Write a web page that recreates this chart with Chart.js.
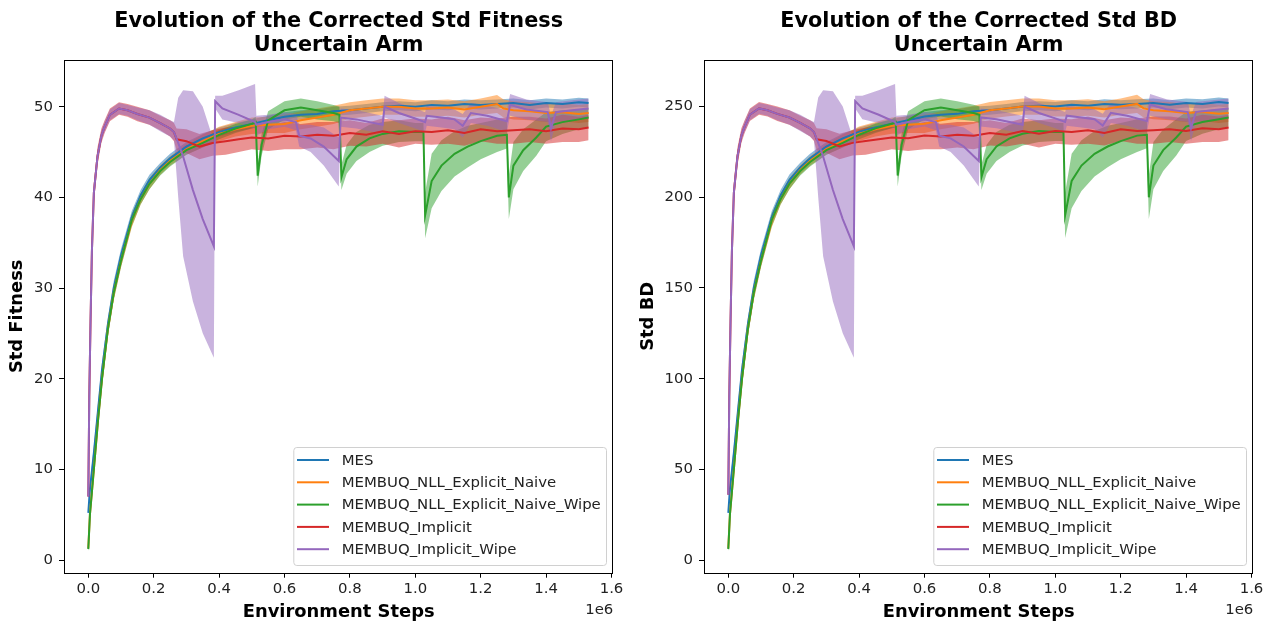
<!DOCTYPE html>
<html>
<head>
<meta charset="utf-8">
<script src="https://cdn.jsdelivr.net/npm/chart.js@4.4.0/dist/chart.umd.min.js"></script>
<style>
body { margin: 0; background: #fff; }
#wrap { position: relative; width: 1269px; height: 626px; }
canvas { position: absolute; top: 0; }
</style>
</head>
<body>
<div id="wrap">
  <canvas id="fitChart" width="634" height="626" style="left:0"></canvas>
  <canvas id="bdChart" width="635" height="626" style="left:634px"></canvas>
</div>
<script>
const seriesNames = ["MES", "MEMBUQ_NLL_Explicit_Naive", "MEMBUQ_NLL_Explicit_Naive_Wipe", "MEMBUQ_Implicit", "MEMBUQ_Implicit_Wipe"];
const lineColors = ["#1f77b4", "#ff7f0e", "#2ca02c", "#d62728", "#9467bd"];
const bandColors = ["rgba(31,119,180,0.5)", "rgba(255,127,14,0.5)", "rgba(44,160,44,0.5)", "rgba(214,39,40,0.5)", "rgba(148,103,189,0.5)"];

// environment steps, in millions
const xTicks = [0, 0.2, 0.4, 0.6, 0.8, 1.0, 1.2, 1.4, 1.6];
const fitTicks = [0, 10, 20, 30, 40, 50];
const bdTicks = [0, 50, 100, 150, 200, 250];

const mesSteps = [0,0.005,0.017,0.03,0.042,0.06,0.078,0.1,0.133,0.16,0.187,0.22,0.25,0.3,0.35,0.4,0.45,0.5,0.55,0.6,0.65,0.7,0.75,0.8,0.85,0.9,0.95,1.0,1.05,1.1,1.15,1.2,1.25,1.3,1.35,1.4,1.45,1.5,1.53];
const naiveSteps = [0,0.005,0.017,0.03,0.042,0.06,0.078,0.1,0.133,0.16,0.187,0.22,0.25,0.3,0.35,0.4,0.45,0.5,0.55,0.6,0.65,0.7,0.75,0.8,0.85,0.9,0.95,1.0,1.05,1.1,1.15,1.2,1.25,1.27,1.3,1.35,1.4,1.45,1.5,1.53];
const naiveWipeSteps = [0,0.005,0.017,0.03,0.042,0.06,0.078,0.1,0.133,0.16,0.187,0.22,0.25,0.3,0.35,0.4,0.45,0.5,0.512,0.518,0.53,0.55,0.6,0.65,0.7,0.75,0.768,0.774,0.79,0.82,0.86,0.9,0.95,1.0,1.025,1.03,1.05,1.08,1.12,1.16,1.2,1.25,1.28,1.286,1.3,1.33,1.37,1.4,1.45,1.5,1.53];
const implicitSteps = [0,0.003,0.0067,0.011,0.017,0.028,0.04,0.05,0.066,0.094,0.12,0.15,0.187,0.22,0.25,0.262,0.27,0.3,0.34,0.38,0.42,0.46,0.5,0.55,0.6,0.65,0.7,0.75,0.8,0.85,0.9,0.95,1.0,1.05,1.1,1.15,1.2,1.25,1.3,1.35,1.4,1.45,1.5,1.53];
const implicitWipeSteps = [0,0.003,0.0067,0.011,0.017,0.028,0.04,0.05,0.066,0.094,0.12,0.15,0.187,0.22,0.25,0.262,0.275,0.29,0.32,0.35,0.384,0.388,0.41,0.46,0.51,0.514,0.55,0.6,0.635,0.645,0.68,0.72,0.766,0.772,0.82,0.86,0.9,0.906,0.95,1.0,1.03,1.035,1.08,1.12,1.145,1.17,1.22,1.28,1.29,1.34,1.405,1.415,1.43,1.48,1.53];

// Std Fitness
const mesFit = [5.2,7.8,11.8,16.6,21.0,26.0,30.0,33.6,37.8,40.2,41.9,43.3,44.3,45.6,46.5,47.2,47.7,48.1,48.5,48.9,49.1,49.2,49.5,49.6,49.8,50.0,50.1,50.0,50.2,50.1,50.3,50.2,50.3,50.4,50.2,50.4,50.3,50.5,50.4];
const mesFitSd = [0.3,0.6,0.8,0.8,0.8,0.8,0.8,0.7,0.7,0.6,0.6,0.5,0.5,0.5,0.5,0.5,0.5,0.5,0.5,0.5,0.5,0.5,0.5,0.5,0.5,0.5,0.5,0.5,0.5,0.5,0.5,0.5,0.5,0.5,0.5,0.5,0.5,0.5,0.5];
const naiveFit = [1.3,5.0,10.0,15.5,20.0,25.5,29.5,33.0,37.4,39.8,41.5,43.0,44.0,45.3,46.2,47.0,47.5,47.9,48.0,48.1,48.5,48.8,49.1,49.6,49.8,50.0,50.0,49.8,49.8,49.9,49.7,50.0,50.3,49.8,49.6,49.5,49.3,49.4,49.2,49.3];
const naiveFitSd = [0.3,0.6,0.8,0.8,0.8,0.8,0.8,0.7,0.7,0.6,0.6,0.5,0.5,0.6,0.7,0.8,0.8,0.9,0.9,1.0,1.0,1.0,1.0,0.9,0.9,0.9,0.9,0.9,0.9,0.9,0.9,0.9,1.0,1.0,1.0,1.0,1.0,1.0,1.0,1.0];
const naiveWipeFit = [1.2,5.0,10.0,15.5,20.0,25.5,29.5,33.0,37.5,39.8,41.5,42.9,43.9,45.2,46.0,46.9,47.6,48.1,48.3,42.4,45.8,48.5,49.6,49.9,49.6,49.3,49.1,42.2,44.2,45.6,46.5,47.0,47.3,47.2,47.2,38.0,41.8,43.5,44.8,45.6,46.2,46.8,46.9,40.0,43.5,45.2,46.6,47.8,48.3,48.6,48.8];
const naiveWipeFitSd = [0.3,0.6,0.8,0.8,0.8,0.8,0.8,0.7,0.7,0.6,0.6,0.5,0.5,0.5,0.5,0.5,0.5,0.5,0.6,1.2,1.2,1.0,1.0,1.0,1.0,0.9,0.9,1.4,1.6,1.6,1.5,1.3,1.2,1.0,1.0,2.5,3.0,2.8,2.5,2.3,2.0,1.8,1.5,2.4,2.6,2.3,2.0,1.6,1.3,1.1,1.0];
const implicitFit = [7.0,18.0,26.0,34.0,40.5,44.5,46.8,47.8,49.1,49.8,49.6,49.2,48.8,48.2,47.6,47.2,46.4,46.2,45.6,46.0,46.2,46.4,46.6,46.5,46.8,46.7,46.9,46.8,47.1,46.9,47.3,47.0,47.3,47.2,47.4,47.1,47.5,47.3,47.4,47.5,47.3,47.6,47.5,47.7];
const implicitFitSd = [1.0,2.0,2.0,1.5,1.2,1.0,0.8,0.7,0.7,0.7,0.7,0.8,0.8,0.8,0.9,1.0,1.2,1.3,1.4,1.4,1.5,1.4,1.3,1.4,1.5,1.4,1.4,1.5,1.4,1.3,1.4,1.5,1.4,1.4,1.5,1.4,1.3,1.4,1.5,1.4,1.4,1.5,1.4,1.4];
const implicitWipeFit = [7.0,18.0,26.0,34.0,40.5,44.5,46.8,47.8,49.1,49.8,49.6,49.2,48.8,48.2,47.6,47.2,46.0,44.5,40.8,37.6,34.6,50.6,49.8,49.1,48.3,48.0,48.3,48.6,48.3,46.8,46.5,45.6,44.0,48.8,48.6,48.3,48.0,50.0,49.3,48.7,48.3,49.0,48.8,48.6,47.9,49.3,49.0,48.4,50.2,49.7,49.4,47.6,49.4,49.6,49.8];
const implicitWipeFitLo = [6.0,16.0,24.0,32.5,39.5,43.8,46.2,47.2,48.5,49.2,49.0,48.5,48.0,47.3,46.7,46.3,40.0,33.5,28.5,25.0,22.3,49.8,48.6,48.2,47.6,46.8,47.5,47.8,47.4,45.6,45.0,43.5,41.2,47.8,47.6,47.3,47.0,48.8,48.2,47.6,47.2,47.9,47.7,47.5,46.6,48.2,47.9,47.2,49.0,48.6,48.3,46.2,48.3,48.5,48.7];
const implicitWipeFitHi = [8.0,20.0,28.0,35.5,41.5,45.2,47.4,48.4,49.7,50.4,50.2,49.9,49.6,49.1,48.5,48.3,51.0,51.8,51.7,50.0,46.2,51.2,51.2,51.8,52.5,49.0,49.1,49.4,49.2,48.0,48.0,47.7,46.6,49.8,49.6,49.3,49.0,51.2,50.4,49.8,49.4,50.1,49.9,49.7,49.2,50.4,50.1,49.6,51.4,50.8,50.5,49.0,50.5,50.7,50.9];

// Std BD
const mesBD = [26,39,59,83,105,130,150,168,189,201,209.5,216.5,221.5,228,232.5,236,238.5,240.5,242.5,244.5,245.5,246,247.5,248,249,250,250.5,250,251,250.5,251.5,251,251.5,252,251,252,251.5,252.5,252];
const mesBDSd = [1.5,3,4,4,4,4,4,3.5,3.5,3,3,2.5,2.5,2.5,2.5,2.5,2.5,2.5,2.5,2.5,2.5,2.5,2.5,2.5,2.5,2.5,2.5,2.5,2.5,2.5,2.5,2.5,2.5,2.5,2.5,2.5,2.5,2.5,2.5];
const naiveBD = [6.5,25,50,77.5,100,127.5,147.5,165,187,199,207.5,215,220,226.5,231,235,237.5,239.5,240,240.5,242.5,244,245.5,248,249,250,250,249,249,249.5,248.5,250,251.5,249,248,247.5,246.5,247,246,246.5];
const naiveBDSd = [1.5,3,4,4,4,4,4,3.5,3.5,3,3,2.5,2.5,3,3.5,4,4,4.5,4.5,5,5,5,5,4.5,4.5,4.5,4.5,4.5,4.5,4.5,4.5,4.5,5,5,5,5,5,5,5,5];
const naiveWipeBD = [6,25,50,77.5,100,127.5,147.5,165,187.5,199,207.5,214.5,219.5,226,230,234.5,238,240.5,241.5,212,229,242.5,248,249.5,248,246.5,245.5,211,221,228,232.5,235,236.5,236,236,190,209,217.5,224,228,231,234,234.5,200,217.5,226,233,239,241.5,243,244];
const naiveWipeBDSd = [1.5,3,4,4,4,4,4,3.5,3.5,3,3,2.5,2.5,2.5,2.5,2.5,2.5,2.5,3,6,6,5,5,5,5,4.5,4.5,7,8,8,7.5,6.5,6,5,5,12.5,15,14,12.5,11.5,10,9,7.5,12,13,11.5,10,8,6.5,5.5,5];
const implicitBD = [36,90,130,170,202.5,222.5,234,239,245.5,249,248,246,244,241,238,236,232,231,228,230,231,232,233,232.5,234,233.5,234.5,234,235.5,234.5,236.5,235,236.5,236,237,235.5,237.5,236.5,237,237.5,236.5,238,237.5,238.5];
const implicitBDSd = [5,10,10,7.5,6,5,4,3.5,3.5,3.5,3.5,4,4,4,4.5,5,6,6.5,7,7,7.5,7,6.5,7,7.5,7,7,7.5,7,6.5,7,7.5,7,7,7.5,7,6.5,7,7.5,7,7,7.5,7,7];
const implicitWipeBD = [36,90,130,170,202.5,222.5,234,239,245.5,249,248,246,244,241,238,236,230,222.5,204,188,173,253,249,245.5,241.5,240,241.5,243,241.5,234,232.5,228,220,244,243,241.5,240,250,246.5,243.5,241.5,245,244,243,239.5,246.5,245,242,251,248.5,247,238,247,248,249];
const implicitWipeBDLo = [31,80,120,162.5,197.5,219,231,236,242.5,246,245,242.5,240,236.5,233.5,231.5,200,167.5,142.5,125,111.5,249,243,241,238,234,237.5,239,237,228,225,217.5,206,239,238,236.5,235,244,241,238,236,239.5,238.5,237.5,233,241,239.5,236,245,243,241.5,231,241.5,242.5,243.5];
const implicitWipeBDHi = [40,100,140,177.5,207.5,226,237,242,248.5,252,251,249.5,248,245.5,242.5,241.5,255,259,258.5,250,231,256,256,259,262.5,245,245.5,247,246,240,240,238.5,233,249,248,246.5,245,256,252,249,247,250.5,249.5,248.5,246,252,250.5,248,257,254,252.5,245,252.5,253.5,254.5];

const FONT = "DejaVu Sans";

function fromSd(mean, sd) {
    return { lo: mean.map((m, k) => m - sd[k]), hi: mean.map((m, k) => m + sd[k]) };
}

function toPoints(steps, ys) {
    return steps.map((x, k) => ({ x: x, y: ys[k] }));
}

const decorPlugin = {
    id: "decor",
    afterDraw(chart) {
        const opts = chart.options.plugins.decor;
        const ctx = chart.ctx;
        const a = chart.chartArea;
        ctx.save();
        // frame
        ctx.strokeStyle = "#000";
        ctx.lineWidth = 1;
        ctx.strokeRect(Math.round(a.left) + 0.5, Math.round(a.top) + 0.5, Math.round(a.right - a.left) - 1, Math.round(a.bottom - a.top));
        // title
        ctx.fillStyle = "#000";
        ctx.textAlign = "center";
        ctx.textBaseline = "alphabetic";
        ctx.font = "bold 20.8px '" + FONT + "'";
        const cx = (a.left + a.right) / 2;
        ctx.fillText(opts.title[0], cx, 27);
        ctx.fillText(opts.title[1], cx, 51);
        // offset text
        ctx.font = "14.9px '" + FONT + "'";
        ctx.textAlign = "right";
        ctx.fillStyle = "#222";
        ctx.fillText("1e6", a.right, 614);
        // legend
        const w = 312.7, h = 118;
        const bx = a.right - 7.3 - w, by = a.bottom - 7.7 - h;
        ctx.beginPath();
        ctx.roundRect(bx + 0.5, by + 0.5, w, h, 3);
        ctx.fillStyle = "rgba(255,255,255,0.8)";
        ctx.fill();
        ctx.strokeStyle = "#d0d0d0";
        ctx.stroke();
        ctx.textAlign = "left";
        ctx.textBaseline = "middle";
        seriesNames.forEach((name, i) => {
            const y = by + 13 + i * 22.3;
            ctx.strokeStyle = lineColors[i];
            ctx.lineWidth = 2;
            ctx.beginPath();
            ctx.moveTo(bx + 3.7, y);
            ctx.lineTo(bx + 35.7, y);
            ctx.stroke();
            ctx.fillStyle = "#222";
            ctx.fillText(name, bx + 48.4, y + 1);
        });
        ctx.restore();
    }
};

function buildChart(canvasId, cfg) {
    const datasets = [];
    cfg.series.forEach((s, i) => {
        datasets.push({
            label: "_lo", data: toPoints(s.steps, s.lo),
            borderColor: "transparent", borderWidth: 0, pointRadius: 0, fill: false, order: 300
        });
        datasets.push({
            label: "_hi", data: toPoints(s.steps, s.hi),
            borderColor: "transparent", borderWidth: 0, pointRadius: 0,
            fill: "-1", backgroundColor: bandColors[i], order: 100 - i
        });
        datasets.push({
            label: seriesNames[i], data: toPoints(s.steps, s.mean),
            borderColor: lineColors[i], borderWidth: 2, pointRadius: 0, fill: false, order: 10 - i
        });
    });

    return new Chart(document.getElementById(canvasId), {
        type: "line",
        data: { datasets: datasets },
        options: {
            responsive: false,
            animation: false,
            events: [],
            layout: { padding: { left: 0, right: cfg.padRight, top: 60, bottom: 0 } },
            elements: { line: { tension: 0 } },
            plugins: {
                legend: { display: false },
                tooltip: { enabled: false },
                decor: { title: cfg.title }
            },
            scales: {
                x: {
                    type: "linear",
                    min: -0.0743,
                    max: 1.6055,
                    afterBuildTicks: sc => { sc.ticks = xTicks.map(v => ({ value: v })); },
                    afterFit: sc => { sc.height = 53.3; },
                    ticks: {
                        autoSkip: false, maxRotation: 0, padding: 2, color: "#222",
                        font: { family: FONT, size: 14.9 },
                        callback: v => v.toFixed(1)
                    },
                    grid: { drawOnChartArea: false, drawTicks: true, tickLength: 5, color: "#000", lineWidth: 1 },
                    border: { display: false },
                    title: {
                        display: true, text: "Environment Steps", color: "#000",
                        font: { family: FONT, size: 17.9, weight: "bold" },
                        padding: { top: 0, bottom: 3 }
                    }
                },
                y: {
                    type: "linear",
                    min: cfg.yMin,
                    max: cfg.yMax,
                    afterBuildTicks: sc => { sc.ticks = cfg.yTicks.map(v => ({ value: v })); },
                    afterFit: sc => { sc.width = cfg.yWidth; },
                    ticks: {
                        padding: 6, color: "#222",
                        font: { family: FONT, size: 14.9 }
                    },
                    grid: { drawOnChartArea: false, drawTicks: true, tickLength: 5, color: "#000", lineWidth: 1 },
                    border: { display: false },
                    title: {
                        display: true, text: cfg.yLabel, color: "#000",
                        font: { family: FONT, size: 17.9, weight: "bold" },
                        padding: { top: cfg.yTitlePad, bottom: 0 }
                    }
                }
            }
        },
        plugins: [decorPlugin]
    });
}

const fitSeries = [
    Object.assign({ steps: mesSteps, mean: mesFit }, fromSd(mesFit, mesFitSd)),
    Object.assign({ steps: naiveSteps, mean: naiveFit }, fromSd(naiveFit, naiveFitSd)),
    Object.assign({ steps: naiveWipeSteps, mean: naiveWipeFit }, fromSd(naiveWipeFit, naiveWipeFitSd)),
    Object.assign({ steps: implicitSteps, mean: implicitFit }, fromSd(implicitFit, implicitFitSd)),
    { steps: implicitWipeSteps, mean: implicitWipeFit, lo: implicitWipeFitLo, hi: implicitWipeFitHi }
];

const bdSeries = [
    Object.assign({ steps: mesSteps, mean: mesBD }, fromSd(mesBD, mesBDSd)),
    Object.assign({ steps: naiveSteps, mean: naiveBD }, fromSd(naiveBD, naiveBDSd)),
    Object.assign({ steps: naiveWipeSteps, mean: naiveWipeBD }, fromSd(naiveWipeBD, naiveWipeBDSd)),
    Object.assign({ steps: implicitSteps, mean: implicitBD }, fromSd(implicitBD, implicitBDSd)),
    { steps: implicitWipeSteps, mean: implicitWipeBD, lo: implicitWipeBDLo, hi: implicitWipeBDHi }
];

buildChart("fitChart", {
    series: fitSeries,
    title: ["Evolution of the Corrected Std Fitness", "Uncertain Arm"],
    yLabel: "Std Fitness",
    yTicks: fitTicks,
    yMin: -1.4, yMax: 55.15,
    yWidth: 64, yTitlePad: 7, padRight: 20.7
});

buildChart("bdChart", {
    series: bdSeries,
    title: ["Evolution of the Corrected Std BD", "Uncertain Arm"],
    yLabel: "Std BD",
    yTicks: bdTicks,
    yMin: -7.0, yMax: 275.7,
    yWidth: 70, yTitlePad: 4, padRight: 15.7
});
</script>
</body>
</html>
